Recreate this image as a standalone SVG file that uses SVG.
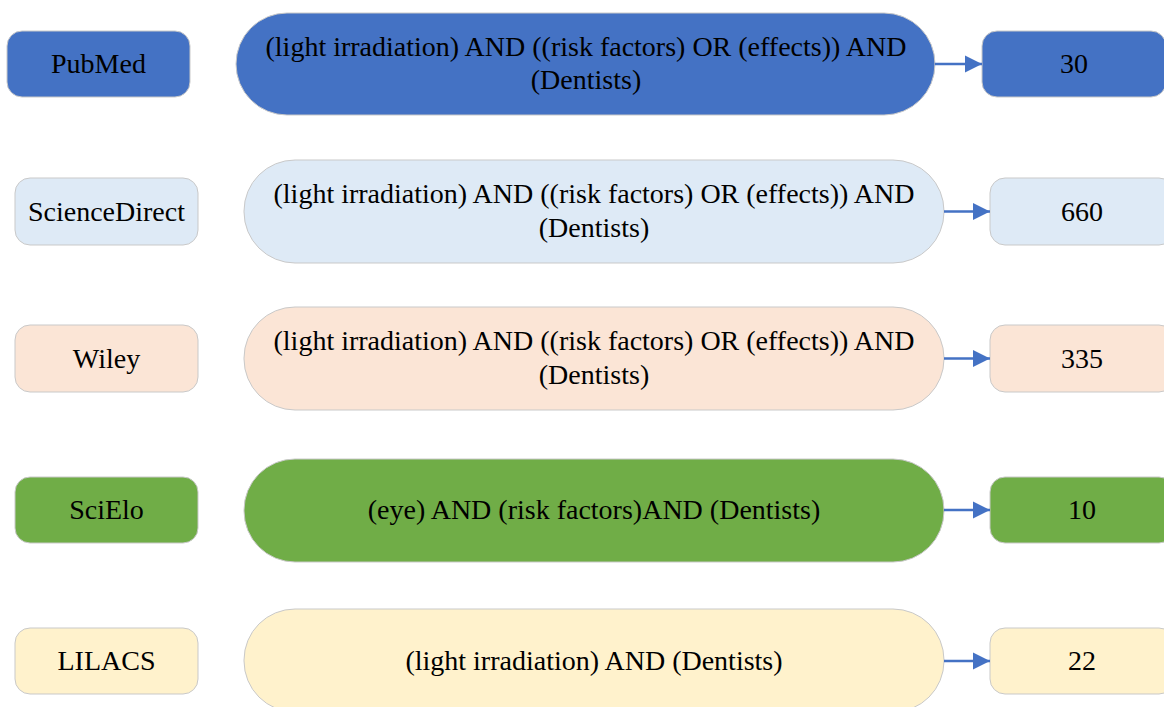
<svg xmlns="http://www.w3.org/2000/svg" width="1164" height="707" viewBox="0 0 1164 707">
<style>
text{font-family:'Liberation Serif',Tinos,'Times New Roman',Times,'DejaVu Serif',serif;font-size:28px;fill:#000;text-anchor:middle}
.s{stroke:#C9C9C9;stroke-width:1}
.blue{fill:#4472C4}.lb{fill:#DEEAF6}.pe{fill:#FBE5D6}.gr{fill:#70AD47}.ye{fill:#FFF2CC}
.c{stroke:#4472C4;stroke-width:2.5;fill:none}
</style>
<defs>
<marker id="ah" viewBox="0 0 10 10" refX="10" refY="5" markerWidth="7" markerHeight="7" markerUnits="strokeWidth" orient="auto"><path d="M0,0L10,5L0,10z" fill="#4472C4"/></marker>
</defs>
<g id="pubmed"><rect class="s blue" x="7" y="31" width="183" height="66" rx="15"/><text x="98.5" y="73">PubMed</text></g>
<g id="q1"><rect class="s blue" x="236" y="13" width="699" height="102" rx="51"/><text x="586" y="56">(light irradiation) AND ((risk factors) OR (effects)) AND</text><text x="586" y="89">(Dentists)</text></g>
<g id="r1"><rect class="s blue" x="982" y="31" width="184" height="66" rx="15"/><text x="1074" y="73">30</text></g>

<g id="sciencedirect"><rect class="s lb" x="15" y="178" width="183" height="67" rx="15"/><text x="106.5" y="221">ScienceDirect</text></g>
<g id="q2"><rect class="s lb" x="244" y="160" width="700" height="103" rx="51"/><text x="594" y="203">(light irradiation) AND ((risk factors) OR (effects)) AND</text><text x="594" y="237">(Dentists)</text></g>
<g id="r2"><rect class="s lb" x="990" y="178" width="184" height="67" rx="15"/><text x="1082" y="221">660</text></g>

<g id="wiley"><rect class="s pe" x="15" y="325" width="183" height="67" rx="15"/><text x="106.5" y="368">Wiley</text></g>
<g id="q3"><rect class="s pe" x="244" y="307" width="700" height="103" rx="51"/><text x="594" y="350">(light irradiation) AND ((risk factors) OR (effects)) AND</text><text x="594" y="384">(Dentists)</text></g>
<g id="r3"><rect class="s pe" x="990" y="325" width="184" height="67" rx="15"/><text x="1082" y="368">335</text></g>

<g id="scielo"><rect class="s gr" x="15" y="477" width="183" height="66" rx="15"/><text x="106.5" y="519">SciElo</text></g>
<g id="q4"><rect class="s gr" x="244" y="459" width="700" height="103" rx="51"/><text x="594" y="519">(eye) AND (risk factors)AND (Dentists)</text></g>
<g id="r4"><rect class="s gr" x="990" y="477" width="184" height="66" rx="15"/><text x="1082" y="519">10</text></g>

<g id="lilacs"><rect class="s ye" x="15" y="628" width="183" height="66" rx="15"/><text x="106.5" y="670">LILACS</text></g>
<g id="q5"><rect class="s ye" x="244" y="609" width="700" height="103" rx="51"/><text x="594" y="670">(light irradiation) AND (Dentists)</text></g>
<g id="r5"><rect class="s ye" x="990" y="628" width="184" height="66" rx="15"/><text x="1082" y="670">22</text></g>

<g id="connectors">
<path class="c" d="M935,64H982" marker-end="url(#ah)"/>
<path class="c" d="M944,211.5H990" marker-end="url(#ah)"/>
<path class="c" d="M944,358.5H990" marker-end="url(#ah)"/>
<path class="c" d="M944,510H990" marker-end="url(#ah)"/>
<path class="c" d="M944,661H990" marker-end="url(#ah)"/>
</g>
</svg>
